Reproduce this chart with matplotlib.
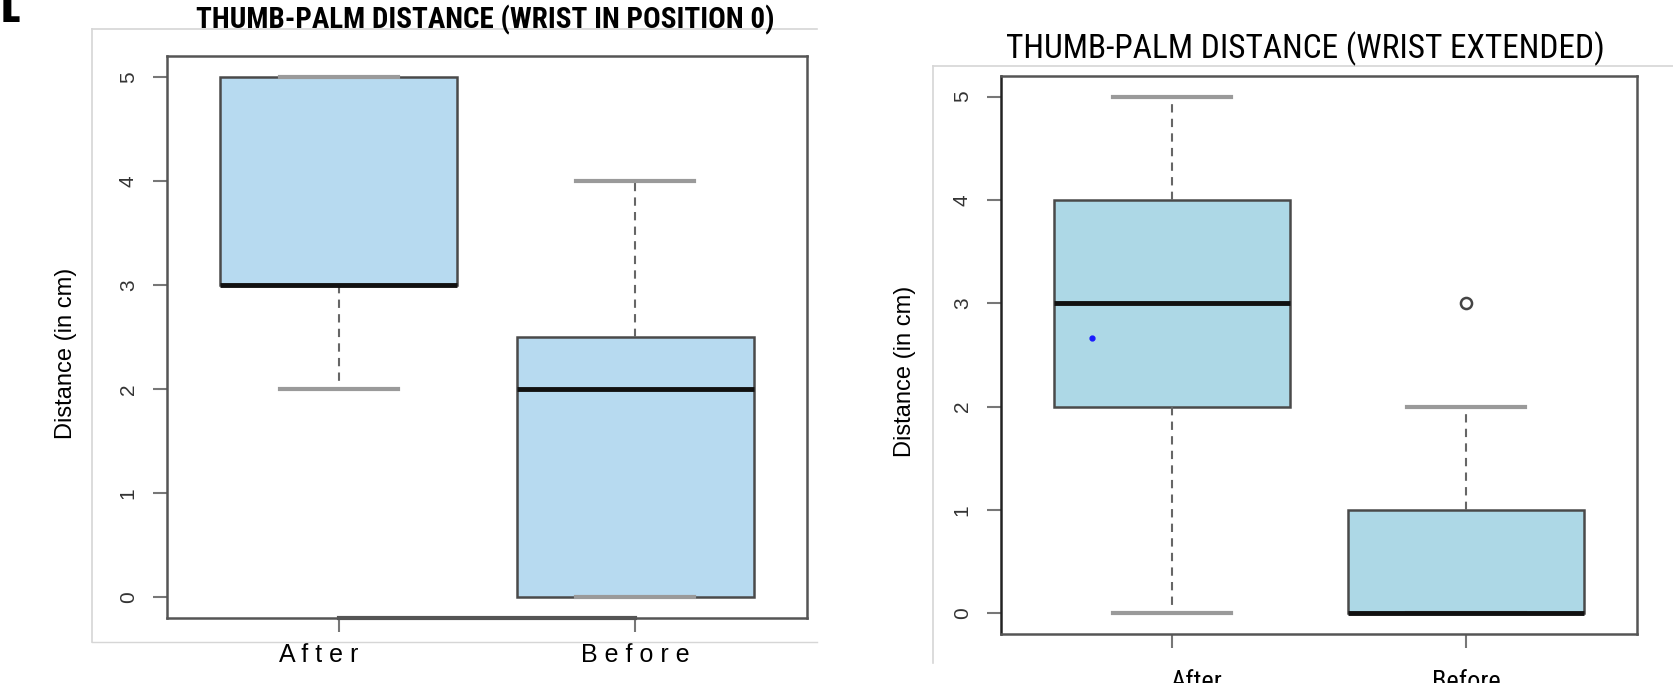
import matplotlib
matplotlib.use("Agg")
import matplotlib.pyplot as plt
from matplotlib import font_manager
from matplotlib.lines import Line2D
from matplotlib.transforms import ScaledTranslation

# ---- data ----
groups = ["After", "Before"]
left_labels = ["A f t e r", "B e f o r e"]

# wrist in position 0
pos0_q1 = [3, 0]
pos0_med = [3, 2]
pos0_q3 = [5, 2.5]
pos0_lo = [2, 0]
pos0_hi = [5, 4]
pos0_fliers = [[], []]

# wrist extended
ext_q1 = [2, 0]
ext_med = [3, 0]
ext_q3 = [4, 1]
ext_lo = [0, 0]
ext_hi = [5, 2]
ext_fliers = [[], [3]]
ext_mean_after = 2.66

yticks = [0, 1, 2, 3, 4, 5]

title_left = "THUMB-PALM DISTANCE (WRIST IN POSITION 0)"
title_right = "THUMB-PALM DISTANCE (WRIST EXTENDED)"
ylab = "Distance (in cm)"

# look for a narrow face for the titles, else shrink a normal one
names = {f.name for f in font_manager.fontManager.ttflist}
narrow = None
for cand in ["Liberation Sans Narrow", "Roboto Condensed", "Open Sans Condensed",
             "DejaVu Sans Condensed", "Noto Sans Condensed"]:
    if cand in names:
        narrow = cand
        break
cond_dejavu = any(f.name == "DejaVu Sans" and f.stretch == "condensed"
                  for f in font_manager.fontManager.ttflist)
if narrow is not None:
    tfont = dict(family=[narrow, "Liberation Sans"], sz_l=21, sz_r=24)
elif cond_dejavu:
    tfont = dict(family=["DejaVu Sans"], stretch="condensed", sz_l=19, sz_r=21)
else:
    tfont = dict(family=["Liberation Sans"], sz_l=18, sz_r=20)
t_kw = dict(family=tfont["family"])
if "stretch" in tfont:
    t_kw["stretch"] = tfont["stretch"]

W, H = 1674, 683
fig = plt.figure(figsize=(W / 100, H / 100), dpi=100)


def stats(q1, med, q3, lo, hi, fl):
    out = []
    for i in range(len(q1)):
        out.append(dict(q1=q1[i], med=med[i], q3=q3[i], whislo=lo[i], whishi=hi[i], fliers=fl[i]))
    return out


def draw(ax, st, fill):
    ax.bxp(st, positions=[1, 2], widths=0.8, patch_artist=True, showfliers=True,
           boxprops=dict(facecolor=fill, edgecolor="#4a4a4a", linewidth=1.8),
           medianprops=dict(color="#111111", linewidth=3.5),
           whiskerprops=dict(color="#666666", linewidth=1.5, linestyle=(0, (4, 3))),
           capprops=dict(color="#9a9a9a", linewidth=3),
           flierprops=dict(marker="o", markerfacecolor="none", markeredgecolor="#444444",
                           markersize=8, markeredgewidth=1.8))
    ax.set_xlim(0.42, 2.58)
    ax.set_ylim(-0.2, 5.2)
    ax.set_yticks(yticks)
    ax.set_yticklabels([str(v) for v in yticks], rotation=90, va="center",
                       fontsize=15, color="#333333", family="Liberation Sans")
    ax.set_xticks([1, 2])
    for s in ax.spines.values():
        s.set_color("#555555")
        s.set_linewidth(1.8)
    ax.tick_params(axis="both", length=10, width=1.5, color="#777777")


# ---- left panel ----
ax1 = fig.add_axes([167 / W, 1 - 618 / H, 640 / W, 562 / H])
draw(ax1, stats(pos0_q1, pos0_med, pos0_q3, pos0_lo, pos0_hi, pos0_fliers), "#b7daf0")
ax1.set_xticklabels(left_labels, fontsize=18, family="Liberation Sans")
ax1.tick_params(axis="y", pad=11)
ax1.tick_params(axis="x", pad=8)
ax1.set_ylabel(ylab, fontsize=17, family="Liberation Sans")
ax1.yaxis.set_label_coords(-0.14, 0.47)
ax1.plot([1, 2], [-0.2, -0.2], color="#555555", linewidth=3, clip_on=False, zorder=5)
xl = ax1.get_xticklabels()
xl[0].set_transform(xl[0].get_transform() + ScaledTranslation(-0.2, 0, fig.dpi_scale_trans))

# ---- right panel ----
ax2 = fig.add_axes([1001 / W, 1 - 634 / H, 636 / W, 558 / H])
draw(ax2, stats(ext_q1, ext_med, ext_q3, ext_lo, ext_hi, ext_fliers), "#add8e6")
ax2.plot([0.73], [ext_mean_after], marker="o", color="#1a1aff", markersize=3.5, linestyle="none")
ax2.spines["left"].set_color("#222222")
ax2.set_xticklabels(groups, fontsize=19, **t_kw)
ax2.tick_params(axis="y", pad=11)
ax2.tick_params(axis="x", pad=16)
xr = ax2.get_xticklabels()
xr[0].set_transform(xr[0].get_transform() + ScaledTranslation(0.25, 0, fig.dpi_scale_trans))
ax2.set_ylabel(ylab, fontsize=17, family="Liberation Sans")
ax2.yaxis.set_label_coords(-0.133, 0.47)

# ---- titles ----
fig.text(485 / W, 1 - 20 / H, title_left, ha="center", va="center", fontsize=tfont["sz_l"],
         fontweight="bold", **t_kw)
fig.text(1305 / W, 1 - 49 / H, title_right, ha="center", va="center", fontsize=tfont["sz_r"],
         **t_kw)

# ---- faint frames around the panels ----
fc = "#d6d6d6"
fig.add_artist(Line2D([92 / W, 817 / W], [1 - 29 / H, 1 - 29 / H], color=fc, lw=1.2))
fig.add_artist(Line2D([92 / W, 92 / W], [1 - 29 / H, 1 - 642 / H], color=fc, lw=1.2))
fig.add_artist(Line2D([92 / W, 817 / W], [1 - 642 / H, 1 - 642 / H], color=fc, lw=1.0))
fig.add_artist(Line2D([933 / W, 1.0], [1 - 66 / H, 1 - 66 / H], color=fc, lw=1.2))
fig.add_artist(Line2D([933 / W, 933 / W], [1 - 66 / H, 1 - 663 / H], color=fc, lw=1.2))

# cropped leftovers at the very top
fig.text(0 / W, 1 - 22 / H, "[", fontsize=44, fontweight="bold", va="bottom", ha="left",
         family="Liberation Sans")
fig.text(398 / W, 1 - 1 / H, ")", fontsize=12, fontweight="bold", va="bottom", ha="left")

fig.savefig("out.png", dpi=100)
